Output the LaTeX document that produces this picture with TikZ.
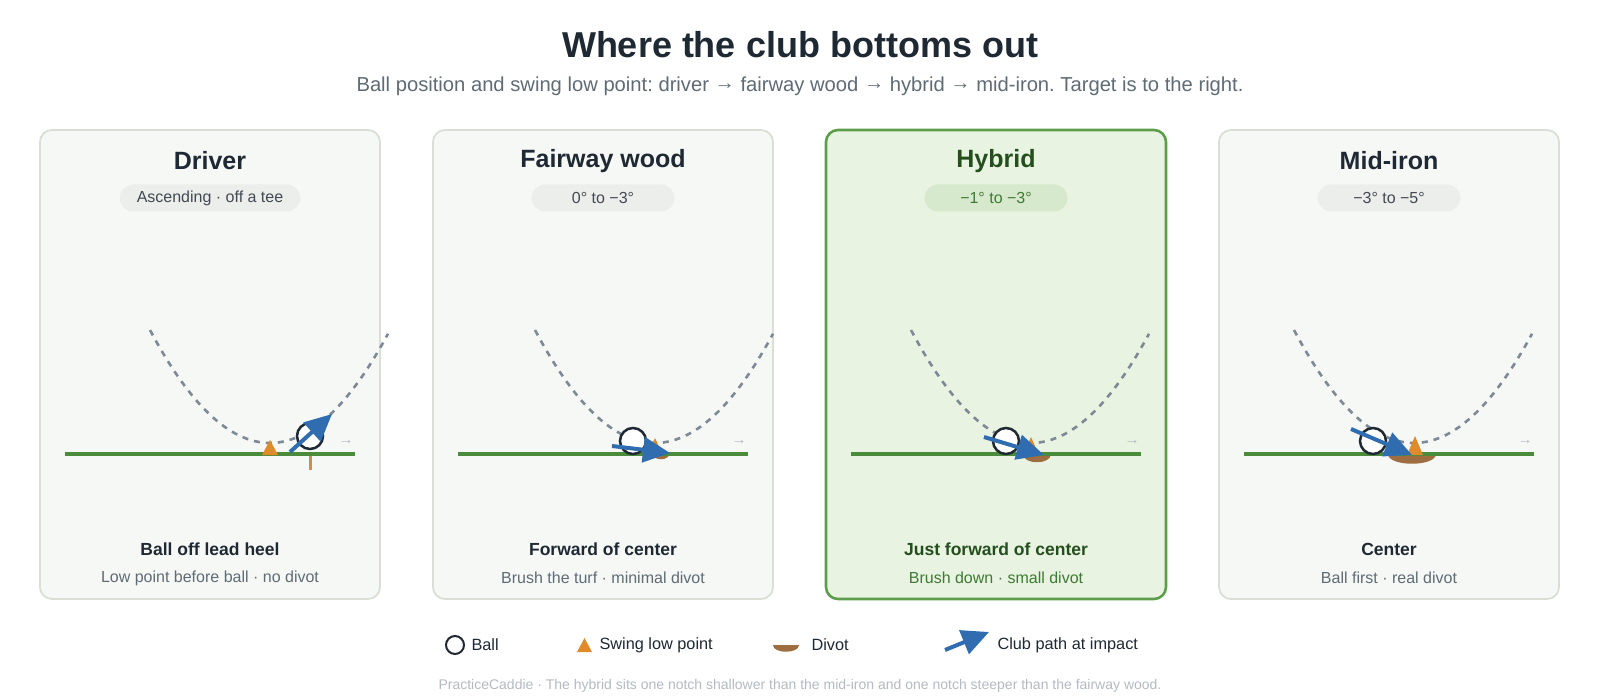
\documentclass[tikz,border=0pt]{standalone}
\usepackage{fontspec}
\setmainfont{Liberation Sans}
\usetikzlibrary{arrows.meta}

\definecolor{panelbg}{HTML}{F6F8F5}
\definecolor{panelline}{HTML}{DADFD5}
\definecolor{hybridbg}{HTML}{E8F3E1}
\definecolor{hybridline}{HTML}{5C9E4C}
\definecolor{inkdark}{HTML}{1F2933}
\definecolor{inkgray}{HTML}{5F6B75}
\definecolor{pillbg}{HTML}{ECEEEB}
\definecolor{pillhyb}{HTML}{D7E9CC}
\definecolor{hybink}{HTML}{244F1D}
\definecolor{hybsub}{HTML}{3F7A34}
\definecolor{groundgreen}{HTML}{4A8C3B}
\definecolor{arcgray}{HTML}{7D8996}
\definecolor{clubblue}{HTML}{2F6DB0}
\definecolor{loworange}{HTML}{E08B2B}
\definecolor{divotbrown}{HTML}{9E6D40}
\definecolor{teetan}{HTML}{C39450}
\definecolor{faint}{HTML}{B3BBC1}

\newcommand{\nextclub}{\raisebox{0.07em}{→}}

\begin{document}
\frenchspacing
\begin{tikzpicture}[
        x=1pt, y=-1pt,
        panel/.style={rectangle, draw=panelline, line width=1.8pt, fill=panelbg, rounded corners=12pt, minimum width=340pt, minimum height=469pt, inner sep=0pt},
        hybpanel/.style={panel, draw=hybridline, line width=2.6pt, fill=hybridbg},
        clubname/.style={font=\fontsize{25}{30}\selectfont\bfseries, text=inkdark},
        pill/.style={rectangle, rounded corners=13.5pt, fill=pillbg, minimum width=143pt, minimum height=27pt, inner xsep=17pt, font=\fontsize{16}{19}\selectfont, text=inkdark!85},
        verdict/.style={font=\fontsize{17.5}{21}\selectfont\bfseries, text=inkdark},
        detail/.style={font=\fontsize{16}{19}\selectfont, text=inkgray},
        swingarc/.style={draw=arcgray, line width=2.6pt, dash pattern=on 6pt off 6pt},
        ground/.style={draw=groundgreen, line width=4pt},
        ball/.style={circle, draw=inkdark, line width=2.5pt, fill=white, minimum size=26pt, inner sep=0pt},
        lowpt/.style={fill=loworange},
        divot/.style={fill=divotbrown},
        clubpath/.style={draw=clubblue, line width=4pt, -{Triangle[length=27pt, width=25pt]}},
        target/.style={font=\fontsize{15}{18}\selectfont, text=faint},
        legendtext/.style={font=\fontsize{16.3}{19}\selectfont, text=inkdark, anchor=west}
    ]
    \useasboundingbox[fill=white] (0,0) rectangle (1600,700);

    % ==========================================
    % Header
    % ==========================================
    \node[font=\fontsize{36}{43}\selectfont\bfseries, text=inkdark] (title) at (800, 45) {Where the club bottoms out};
    \node[font=\fontsize{20.2}{24}\selectfont, text=inkgray] (subtitle) at (800, 86) {Ball position and swing low point: driver \nextclub{} fairway wood \nextclub{} hybrid \nextclub{} mid-iron. Target is to the right.};

    % ==========================================
    % Panels
    % ==========================================
    \node[panel] (p1) at (210, 364.5) {};
    \node[panel] (p2) at (603, 364.5) {};
    \node[hybpanel] (p3) at (996, 364.5) {};
    \node[panel] (p4) at (1389, 364.5) {};

    % titles + loft pills
    \node[clubname] (t1) at (210, 161) {Driver};
    \node[clubname] (t2) at (603, 161) {Fairway wood};
    \node[clubname, text=hybink] (t3) at (996, 161) {Hybrid};
    \node[clubname] (t4) at (1389, 161) {Mid-iron};
    \node[pill] (pill1) at (210, 198) {Ascending · off a tee};
    \node[pill] (pill2) at (603, 198) {0° to −3°};
    \node[pill, fill=pillhyb, text=hybsub] (pill3) at (996, 198) {−1° to −3°};
    \node[pill] (pill4) at (1389, 198) {−3° to −5°};

    % swing arcs (vertex = low point)
    \foreach \vx in {270, 655, 1031, 1414} {
        \draw[swingarc] plot[domain=-120:118, samples=40] ({\vx+\x}, {443-0.00785*\x*\x});
    }

    % divots (under the turf line)
    \fill[divot] (653,454) .. controls (653,461) and (669,461) .. (669,454) -- cycle;
    \fill[divot] (1023,454) .. controls (1023,465) and (1051,465) .. (1051,454) -- cycle;
    \fill[divot] (1388,454) .. controls (1388,467) and (1436,467) .. (1436,454) -- cycle;

    % turf + target arrows
    \foreach \L/\n in {40/1, 433/2, 826/3, 1219/4} {
        \draw[ground] (\L+25, 454) -- (\L+315, 454);
        \node[target] (tgt\n) at (\L+306, 442) {→};
    }

    % tee under the driver
    \draw[draw=teetan, line width=3pt] (310, 456) -- (310, 470);

    % swing low points
    \foreach \vx/\tp in {270/440, 655/438, 1031/437, 1415/436} {
        \fill[lowpt] (\vx-8, 455) -- (\vx, \tp) -- (\vx+8, 455) -- cycle;
    }

    % balls
    \node[ball] (b1) at (310, 436) {};
    \node[ball] (b2) at (633, 441) {};
    \node[ball] (b3) at (1006, 441) {};
    \node[ball] (b4) at (1373, 441) {};

    % club path at impact
    \coordinate (c1a) at (290, 452);   \coordinate (c1b) at (332, 414);
    \coordinate (c2a) at (612, 446);   \coordinate (c2b) at (670, 453);
    \coordinate (c3a) at (984, 437);   \coordinate (c3b) at (1044, 455);
    \coordinate (c4a) at (1351, 429);  \coordinate (c4b) at (1412, 455);
    \draw[clubpath] (c1a) -- (c1b);
    \draw[clubpath] (c2a) -- (c2b);
    \draw[clubpath] (c3a) -- (c3b);
    \draw[clubpath] (c4a) -- (c4b);

    % verdicts
    \node[verdict] (v1) at (210, 549) {Ball off lead heel};
    \node[verdict] (v2) at (603, 549) {Forward of center};
    \node[verdict, text=hybink] (v3) at (996, 549) {Just forward of center};
    \node[verdict] (v4) at (1389, 549) {Center};
    \node[detail] (d1) at (210, 578) {Low point before ball · no divot};
    \node[detail] (d2) at (603, 578) {Brush the turf · minimal divot};
    \node[detail, text=hybsub] (d3) at (996, 578) {Brush down · small divot};
    \node[detail] (d4) at (1389, 578) {Ball first · real divot};

    % ==========================================
    % Legend + footer
    % ==========================================
    \node[ball, minimum size=18pt, line width=2pt] (lgball) at (455, 645) {};
    \node[legendtext] (lgballtxt) at (468, 645) {Ball};
    \fill[lowpt] (577, 652) -- (584.5, 638) -- (592, 652) -- cycle;
    \node[legendtext] (lglowtxt) at (596, 645) {Swing low point};
    \fill[divot] (773, 645) .. controls (773, 654) and (799, 654) .. (799, 645) -- cycle;
    \node[legendtext] (lgdivtxt) at (808, 645) {Divot};
    \coordinate (lgca) at (945, 650);  \coordinate (lgcb) at (989, 632);
    \draw[clubpath] (lgca) -- (lgcb);
    \node[legendtext] (lgclubtxt) at (994, 645) {Club path at impact};

    \node[font=\fontsize{14}{17}\selectfont, text=faint] (footer) at (800, 686) {PracticeCaddie · The hybrid sits one notch shallower than the mid-iron and one notch steeper than the fairway wood.};

\end{tikzpicture}
\end{document}
